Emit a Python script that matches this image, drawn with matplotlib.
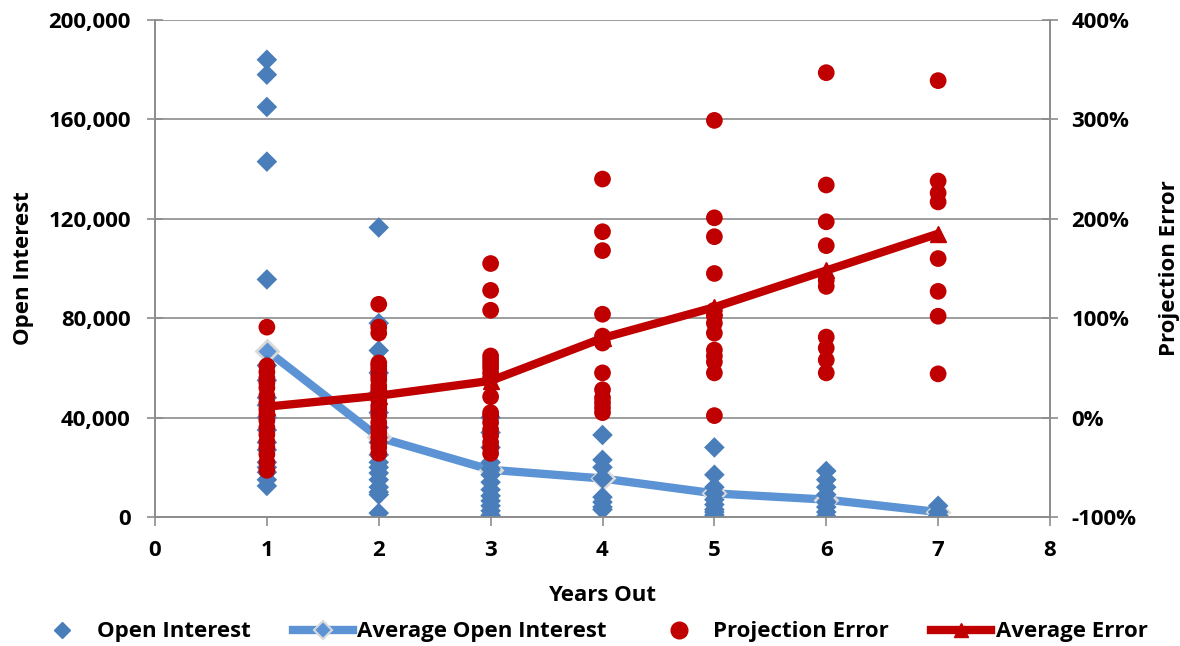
import matplotlib
matplotlib.use("Agg")
import matplotlib.pyplot as plt
from matplotlib.ticker import FuncFormatter
from matplotlib.lines import Line2D

plt.rcParams['font.family'] = ['Open Sans', 'DejaVu Sans']
plt.rcParams['font.weight'] = 'bold'

# ---- data ----
years = [1, 2, 3, 4, 5, 6, 7]

open_interest = {
    1: [184000, 178000, 165000, 143000, 95600, 61000, 55000, 48000, 45000, 40000,
        35000, 30000, 27000, 22000, 20000, 18000, 15000, 12500],
    2: [116500, 78000, 67000, 58000, 50000, 42000, 36000, 30000, 25000, 22000,
        20000, 17700, 15000, 12000, 10000, 9000, 1600],
    3: [40000, 34000, 28000, 22000, 19500, 17000, 14000, 11000, 8500, 6500, 4500, 2500, 700],
    4: [33000, 23000, 20000, 15500, 8000, 6000, 4000, 3000],
    5: [28000, 17000, 12000, 9500, 7000, 5000, 3000, 2000, 800],
    6: [18500, 15000, 12000, 9000, 6000, 4000, 2000, 300],
    7: [4500, 2000, 600, 0],
}

projection_error = {
    1: [91, 52, 46, 40, 35, 30, 22, 15, 8, 3, -3, -10, -17, -24, -30, -37, -45, -53],
    2: [114, 91, 85, 55, 52, 48, 42, 38, 32, 28, 22, 18, 12, 8, 2, -5, -10, -15,
        -20, -25, -30, -36],
    3: [155, 128, 108, 62, 58, 54, 50, 45, 40, 21, 5, 2, -5, -12, -18, -25, -30, -36],
    4: [240, 187, 168, 104, 82, 75, 45, 28, 20, 15, 10, 5],
    5: [299, 201, 182, 145, 108, 102, 95, 85, 68, 62, 56, 45, 2],
    6: [347, 234, 197, 173, 138, 132, 81, 70, 58, 45],
    7: [339, 238, 226, 217, 160, 127, 102, 44],
}

avg_open_interest = [67000, 32000, 19000, 15500, 9500, 7000, 2000]
avg_error = [11, 22, 37, 80, 111, 148, 185]

x_ticks = [0, 1, 2, 3, 4, 5, 6, 7, 8]
left_ticks = [0, 40000, 80000, 120000, 160000, 200000]
right_ticks = [-100, 0, 100, 200, 300, 400]

# ---- colors ----
C_OI = '#4A7EBB'
C_AVG_OI = '#5B93D5'
C_ERR = '#C00000'
C_GRID = '#8C8C8C'
FS = 16

fig = plt.figure(figsize=(11.8, 6.46), dpi=100)
ax = fig.add_axes([155/1180, 1 - 517/646, (1050-155)/1180, (517-20)/646])
ax2 = ax.twinx()

# Open interest scatter & average (primary axis)
for y in years:
    ax.scatter([y] * len(open_interest[y]), open_interest[y], s=110,
               marker='D', color=C_OI, edgecolors='none', zorder=3)
ax.plot(years, avg_open_interest, color=C_AVG_OI, lw=6, marker='D', markersize=11,
        markerfacecolor=C_AVG_OI, markeredgecolor='#D9D9D9', markeredgewidth=2,
        zorder=2, solid_capstyle='butt')

# Projection error scatter & average error (secondary axis)
for y in years:
    ax2.scatter([y] * len(projection_error[y]), projection_error[y], s=145,
                marker='o', color=C_ERR, edgecolors='none', zorder=3)
ax2.plot(years, avg_error, color=C_ERR, lw=6, marker='^', markersize=12,
         markeredgecolor=C_ERR, zorder=4, solid_capstyle='butt')

ax.set_zorder(0)
ax2.set_zorder(1)
ax2.patch.set_visible(False)

ax.set_xlim(0, 8)
ax.set_ylim(0, 200000)
ax2.set_ylim(-100, 400)
ax.set_xticks(x_ticks)
ax.set_yticks(left_ticks)
ax2.set_yticks(right_ticks)
ax.yaxis.set_major_formatter(FuncFormatter(lambda v, p: f'{int(v):,}'))
ax2.yaxis.set_major_formatter(FuncFormatter(lambda v, p: f'{int(v)}%'))

ax.grid(axis='y', color=C_GRID, lw=1.2)
ax.set_axisbelow(True)

for a in (ax, ax2):
    a.spines['top'].set_visible(False)
    for s in ['left', 'right', 'bottom']:
        a.spines[s].set_color(C_GRID)
        a.spines[s].set_linewidth(1.2)

ax.tick_params(axis='y', direction='inout', length=11, width=1.2, color=C_GRID,
               labelsize=FS, pad=12)
ax.tick_params(axis='x', direction='out', length=6.5, width=1.2, color=C_GRID,
               labelsize=FS, pad=10)
ax2.tick_params(axis='y', direction='inout', length=11, width=1.2, color=C_GRID,
                labelsize=FS, pad=10)
for lab in ax.get_xticklabels() + ax.get_yticklabels() + ax2.get_yticklabels():
    lab.set_fontweight('bold')

ax.set_xlabel('Years Out', fontsize=FS, fontweight='bold', labelpad=17)
ax.set_ylabel('Open Interest', fontsize=FS, fontweight='bold', labelpad=10)
ax2.set_ylabel('Projection Error', fontsize=FS, fontweight='bold', rotation=90,
               labelpad=16)

handles = [
    Line2D([], [], ls='none', marker='D', color=C_OI, markersize=8),
    Line2D([], [], color=C_AVG_OI, lw=6, marker='D', markersize=9,
           markerfacecolor=C_AVG_OI, markeredgecolor='#D9D9D9', markeredgewidth=1.5),
    Line2D([], [], ls='none', marker='o', color=C_ERR, markersize=12),
    Line2D([], [], color=C_ERR, lw=6, marker='^', markersize=10),
]
labels = ['Open Interest', 'Average Open Interest', 'Projection Error', 'Average Error']
fig.legend(handles, labels, loc='center', bbox_to_anchor=(0.5, 1 - 632/646), ncol=4,
           frameon=False, prop={'size': FS, 'weight': 'bold'}, columnspacing=1.9,
           handlelength=2.7, handletextpad=0.2)

fig.savefig('out.png', dpi=100)
